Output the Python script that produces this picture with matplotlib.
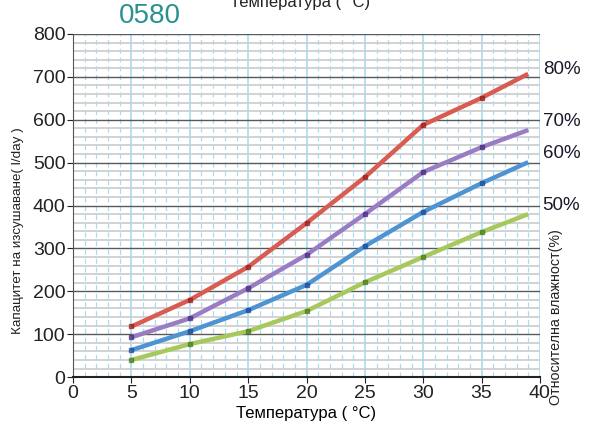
"""
Dehumidifier capacity vs temperature for several relative humidities.
"""

import matplotlib.pyplot as plt
from matplotlib.ticker import MultipleLocator

temps = [5, 10, 15, 20, 25, 30, 35, 39]
rh80 = [118, 180, 257, 359, 466, 588, 651, 707]
rh70 = [93, 137, 207, 285, 380, 478, 536, 576]
rh60 = [63, 107, 156, 215, 305, 385, 452, 501]
rh50 = [40, 77, 107, 154, 221, 280, 338, 380]

series = [
    ("80%", rh80, "#d85c52", "#9a1e1e"),
    ("70%", rh70, "#9a7cc4", "#4a2a80"),
    ("60%", rh60, "#4e93d2", "#1a4a9a"),
    ("50%", rh50, "#a6c85c", "#4a7a1a"),
]
label_y = [718, 597, 522, 400]

plt.rcParams["font.family"] = ["Liberation Sans", "DejaVu Sans"]

fig = plt.figure(figsize=(5.9, 4.3), dpi=100)
ax = fig.add_axes([0.124, 0.123, 0.791, 0.798])

ax.set_xlim(0, 40)
ax.set_ylim(0, 800)
ax.xaxis.set_major_locator(MultipleLocator(5))
ax.xaxis.set_minor_locator(MultipleLocator(1))
ax.yaxis.set_major_locator(MultipleLocator(100))
ax.yaxis.set_minor_locator(MultipleLocator(20))

ax.grid(True, which="minor", axis="x", color="#a8dcf2", lw=0.9, ls=(0, (4, 3)))
ax.grid(True, which="major", axis="x", color="#a8dcf2", lw=1.2)
ax.grid(True, which="minor", axis="y", color="#cfcfcf", lw=1.3)
ax.grid(True, which="major", axis="y", color="#5a5a5a", lw=1.0)
ax.set_axisbelow(True)

for name, vals, col, dark in series:
    ax.plot(temps, vals, color=col, lw=3.2, solid_capstyle="butt", zorder=3)
    ax.plot(temps[:-1], vals[:-1], ls="none", marker="s", ms=3,
            color=dark, alpha=0.7, zorder=4)

for (name, _, _, _), ly in zip(series, label_y):
    ax.text(1.006, ly, name, transform=ax.get_yaxis_transform(),
            fontsize=13.5, color="#1a1a2a", va="center", ha="left")

fig.text(0.943, 0.058, "Относителна влажност(%)", rotation=90,
         fontsize=10.3, va="bottom", ha="center", color="#222222")

for side in ("top", "right"):
    ax.spines[side].set_visible(False)
ax.spines["left"].set_color("#555555")
ax.spines["bottom"].set_color("#222222")
ax.spines["bottom"].set_linewidth(1.5)

ax.tick_params(axis="both", which="major", labelsize=14, length=4,
               colors="#222222", pad=1.5)
ax.tick_params(axis="both", which="minor", length=0)

ax.set_xlabel("Температура ( °C)", fontsize=12, labelpad=3)
fig.text(0.031, 0.463, "Капацитет на изсушаване( l/day )", rotation=90,
         fontsize=9.7, va="center", ha="center", color="#222222")

fig.text(0.254, 0.963, "0580", fontsize=20, color="#2a9090",
         ha="center", va="center")
fig.text(0.508, 0.995, "Температура ( °C)", fontsize=12, color="#222222",
         ha="center", va="center")

fig.savefig("out.png", dpi=100)
